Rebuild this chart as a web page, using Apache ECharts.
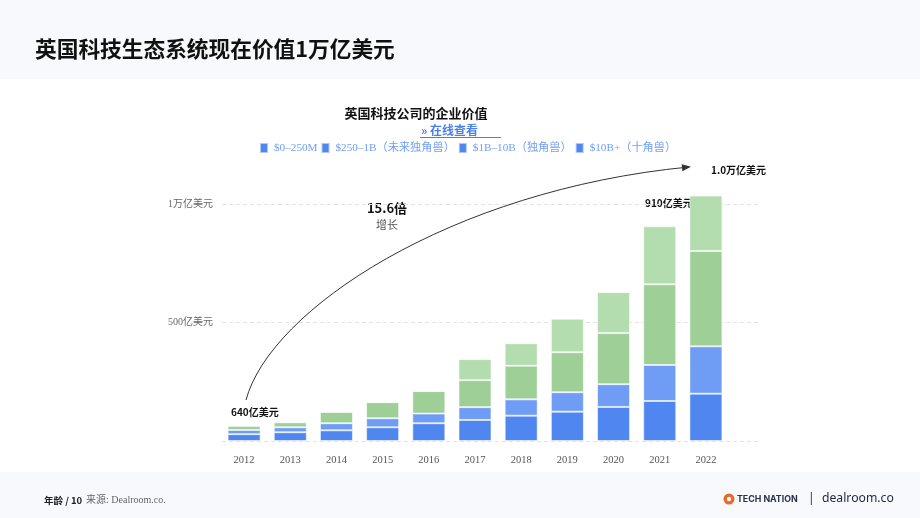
<!DOCTYPE html>
<html>
<head>
<meta charset="utf-8">
<script src="https://cdn.jsdelivr.net/npm/echarts@6/dist/echarts.min.js"></script>
<style>
html,body{margin:0;padding:0;background:#f8f9fd;}
#c{width:920px;height:518px;}
</style>
</head>
<body>
<div id="c"></div>
<script>
// values in 亿美元 (100M USD)
var years = ['2012','2013','2014','2015','2016','2017','2018','2019','2020','2021','2022'];
var seriesNames = ['$0–250M', '$250–1B（未来独角兽）', '$1B–10B（独角兽）', '$10B+（十角兽）'];
var seg0to250M = [290, 370, 450, 580, 750, 890, 1070, 1240, 1440, 1690, 2000];
var seg250to1B = [180, 210, 300, 380, 410, 540, 690, 820, 960, 1520, 2000];
var seg1Bto10B = [170, 210, 480, 680, 950, 1140, 1420, 1690, 2160, 3410, 4030];
var seg10Bplus = [0, 0, 0, 0, 0, 890, 950, 1420, 1730, 2450, 2340];
var yTickLabels = {5000: '500亿美元', 10000: '1万亿美元'};

var colors = ['#4f86f0', '#6f9cf5', '#9ecf97', '#b3dcaf'];
var serif = "'Liberation Serif','DejaVu Serif','Noto Sans CJK SC',serif";
var sans = "'Noto Sans CJK SC','Noto Sans',sans-serif";

var chart = echarts.init(document.getElementById('c'), null, {renderer: 'canvas'});

var allData = [seg0to250M, seg250to1B, seg1Bto10B, seg10Bplus];
var bars = allData.map(function (d, i) {
  return {
    name: seriesNames[i],
    type: 'bar',
    stack: 'v',
    xAxisIndex: 0,
    yAxisIndex: 0,
    barWidth: 33,
    data: d,
    itemStyle: {color: colors[i], borderColor: 'rgba(255,255,255,0.55)', borderWidth: 1},
    emphasis: {disabled: true}
  };
});

// arrow geometry (annotation)
var p0 = [246, 400], c1 = [270, 310], c2 = [450, 190], p3 = [689, 167];
var dx = p3[0] - c2[0], dy = p3[1] - c2[1];
var len = Math.sqrt(dx * dx + dy * dy); dx /= len; dy /= len;
var ax = p3[0] + dx * 2, ay = p3[1] + dy * 2;
var bx = ax - dx * 9, by = ay - dy * 9;
var arrowPts = [[ax, ay], [bx - dy * 3.5, by + dx * 3.5], [bx + dy * 3.5, by - dx * 3.5]];

var option = {
  animation: false,
  backgroundColor: '#f8f9fd',
  legend: {
    left: 259,
    top: 142,
    padding: 0,
    itemWidth: 8,
    itemHeight: 10,
    itemGap: 3,
    icon: 'rect',
    data: seriesNames.map(function (n) { return {name: n, itemStyle: {color: '#4f86f0'}}; }),
    textStyle: {color: '#72a0f3', fontSize: 11.2, fontFamily: serif, padding: [0, 0, 0, 1]},
    selectedMode: false
  },
  grid: [
    {left: 221, right: 191, top: 157, bottom: 77},
    {left: 222, right: 160, top: 204.3, bottom: 77}
  ],
  xAxis: [
    {
      type: 'category', gridIndex: 0, data: years,
      axisLine: {show: false}, axisTick: {show: false},
      axisLabel: {color: '#555', fontSize: 10.5, fontFamily: serif, margin: 14}
    },
    {type: 'value', gridIndex: 1, min: 0, max: 1, show: false}
  ],
  yAxis: [
    {type: 'value', gridIndex: 0, min: 0, max: 12000, show: false},
    {
      type: 'value', gridIndex: 1, min: 0, max: 10000, interval: 5000,
      axisLine: {show: false}, axisTick: {show: false},
      splitLine: {show: true, lineStyle: {color: '#e3e3e3', type: [4, 3], width: 1}},
      axisLabel: {
        color: '#666', fontSize: 10, fontFamily: serif, margin: 9,
        formatter: function (v) { return yTickLabels[v] || ''; }
      }
    }
  ],
  series: bars.concat([{
    type: 'line', xAxisIndex: 1, yAxisIndex: 1, data: [], silent: true
  }]),
  graphic: [
    {type: 'rect', shape: {x: 0, y: 79, width: 920, height: 393}, style: {fill: '#ffffff'}, z: -10, silent: true},
    {type: 'text', x: 35, y: 49, style: {text: '英国科技生态系统现在价值1万亿美元', font: 'bold 21.7px ' + sans, fill: '#111', textVerticalAlign: 'middle'}},
    {type: 'text', x: 416, y: 113, style: {text: '英国科技公司的企业价值', font: 'bold 13px ' + sans, fill: '#111', textAlign: 'center', textVerticalAlign: 'middle'}},
    {type: 'text', x: 421, y: 130, style: {text: '» 在线查看', font: 'bold 12px ' + sans, fill: '#4a7ee9', textVerticalAlign: 'middle'}},
    {type: 'line', shape: {x1: 420, y1: 137.5, x2: 501, y2: 137.5}, style: {stroke: '#4a7ee9', lineWidth: 1}},
    {type: 'bezierCurve', z: 100, shape: {x1: p0[0], y1: p0[1], cpx1: c1[0], cpy1: c1[1], cpx2: c2[0], cpy2: c2[1], x2: p3[0], y2: p3[1]}, style: {stroke: '#333', lineWidth: 1, fill: null}},
    {type: 'polygon', z: 100, shape: {points: arrowPts}, style: {fill: '#333'}},
    {type: 'text', x: 387, y: 208, style: {text: '15.6倍', font: 'bold 13px ' + sans, fill: '#111', textAlign: 'center', textVerticalAlign: 'middle'}},
    {type: 'text', x: 387, y: 225, style: {text: '增长', font: '11px ' + sans, fill: '#555', textAlign: 'center', textVerticalAlign: 'middle'}},
    {type: 'text', x: 711, y: 170, style: {text: '1.0万亿美元', font: 'bold 10px ' + sans, fill: '#111', textVerticalAlign: 'middle'}},
    {type: 'text', x: 645, y: 203, style: {text: '910亿美元', font: 'bold 10px ' + sans, fill: '#111', textVerticalAlign: 'middle'}},
    {type: 'text', x: 231, y: 412, style: {text: '640亿美元', font: 'bold 10px ' + sans, fill: '#111', textVerticalAlign: 'middle'}},
    {type: 'text', x: 44, y: 500, style: {text: '年龄 / 10', font: 'bold 9.5px ' + sans, fill: '#222', textVerticalAlign: 'middle'}},
    {type: 'text', x: 86, y: 500, style: {text: '来源: Dealroom.co.', font: '10px ' + serif, fill: '#666', textVerticalAlign: 'middle'}},
    {type: 'circle', shape: {cx: 729, cy: 499, r: 5.5}, style: {fill: '#e8692c'}},
    {type: 'circle', shape: {cx: 729, cy: 499, r: 2.2}, style: {fill: '#f8f9fd'}},
    {type: 'text', x: 737, y: 499.5, style: {text: 'TECH NATION', font: 'bold 8.8px ' + "'Inter','Noto Sans',sans-serif", fill: '#2b3047', textVerticalAlign: 'middle'}},
    {type: 'text', x: 808, y: 499, style: {text: '|', font: '12px ' + "'Noto Sans',sans-serif", fill: '#2b3047', textVerticalAlign: 'middle'}},
    {type: 'text', x: 822, y: 499, style: {text: 'dealroom.co', font: '12.2px ' + "'Noto Sans',sans-serif", fill: '#1f2540', textVerticalAlign: 'middle'}}
  ]
};
chart.setOption(option);
</script>
</body>
</html>
